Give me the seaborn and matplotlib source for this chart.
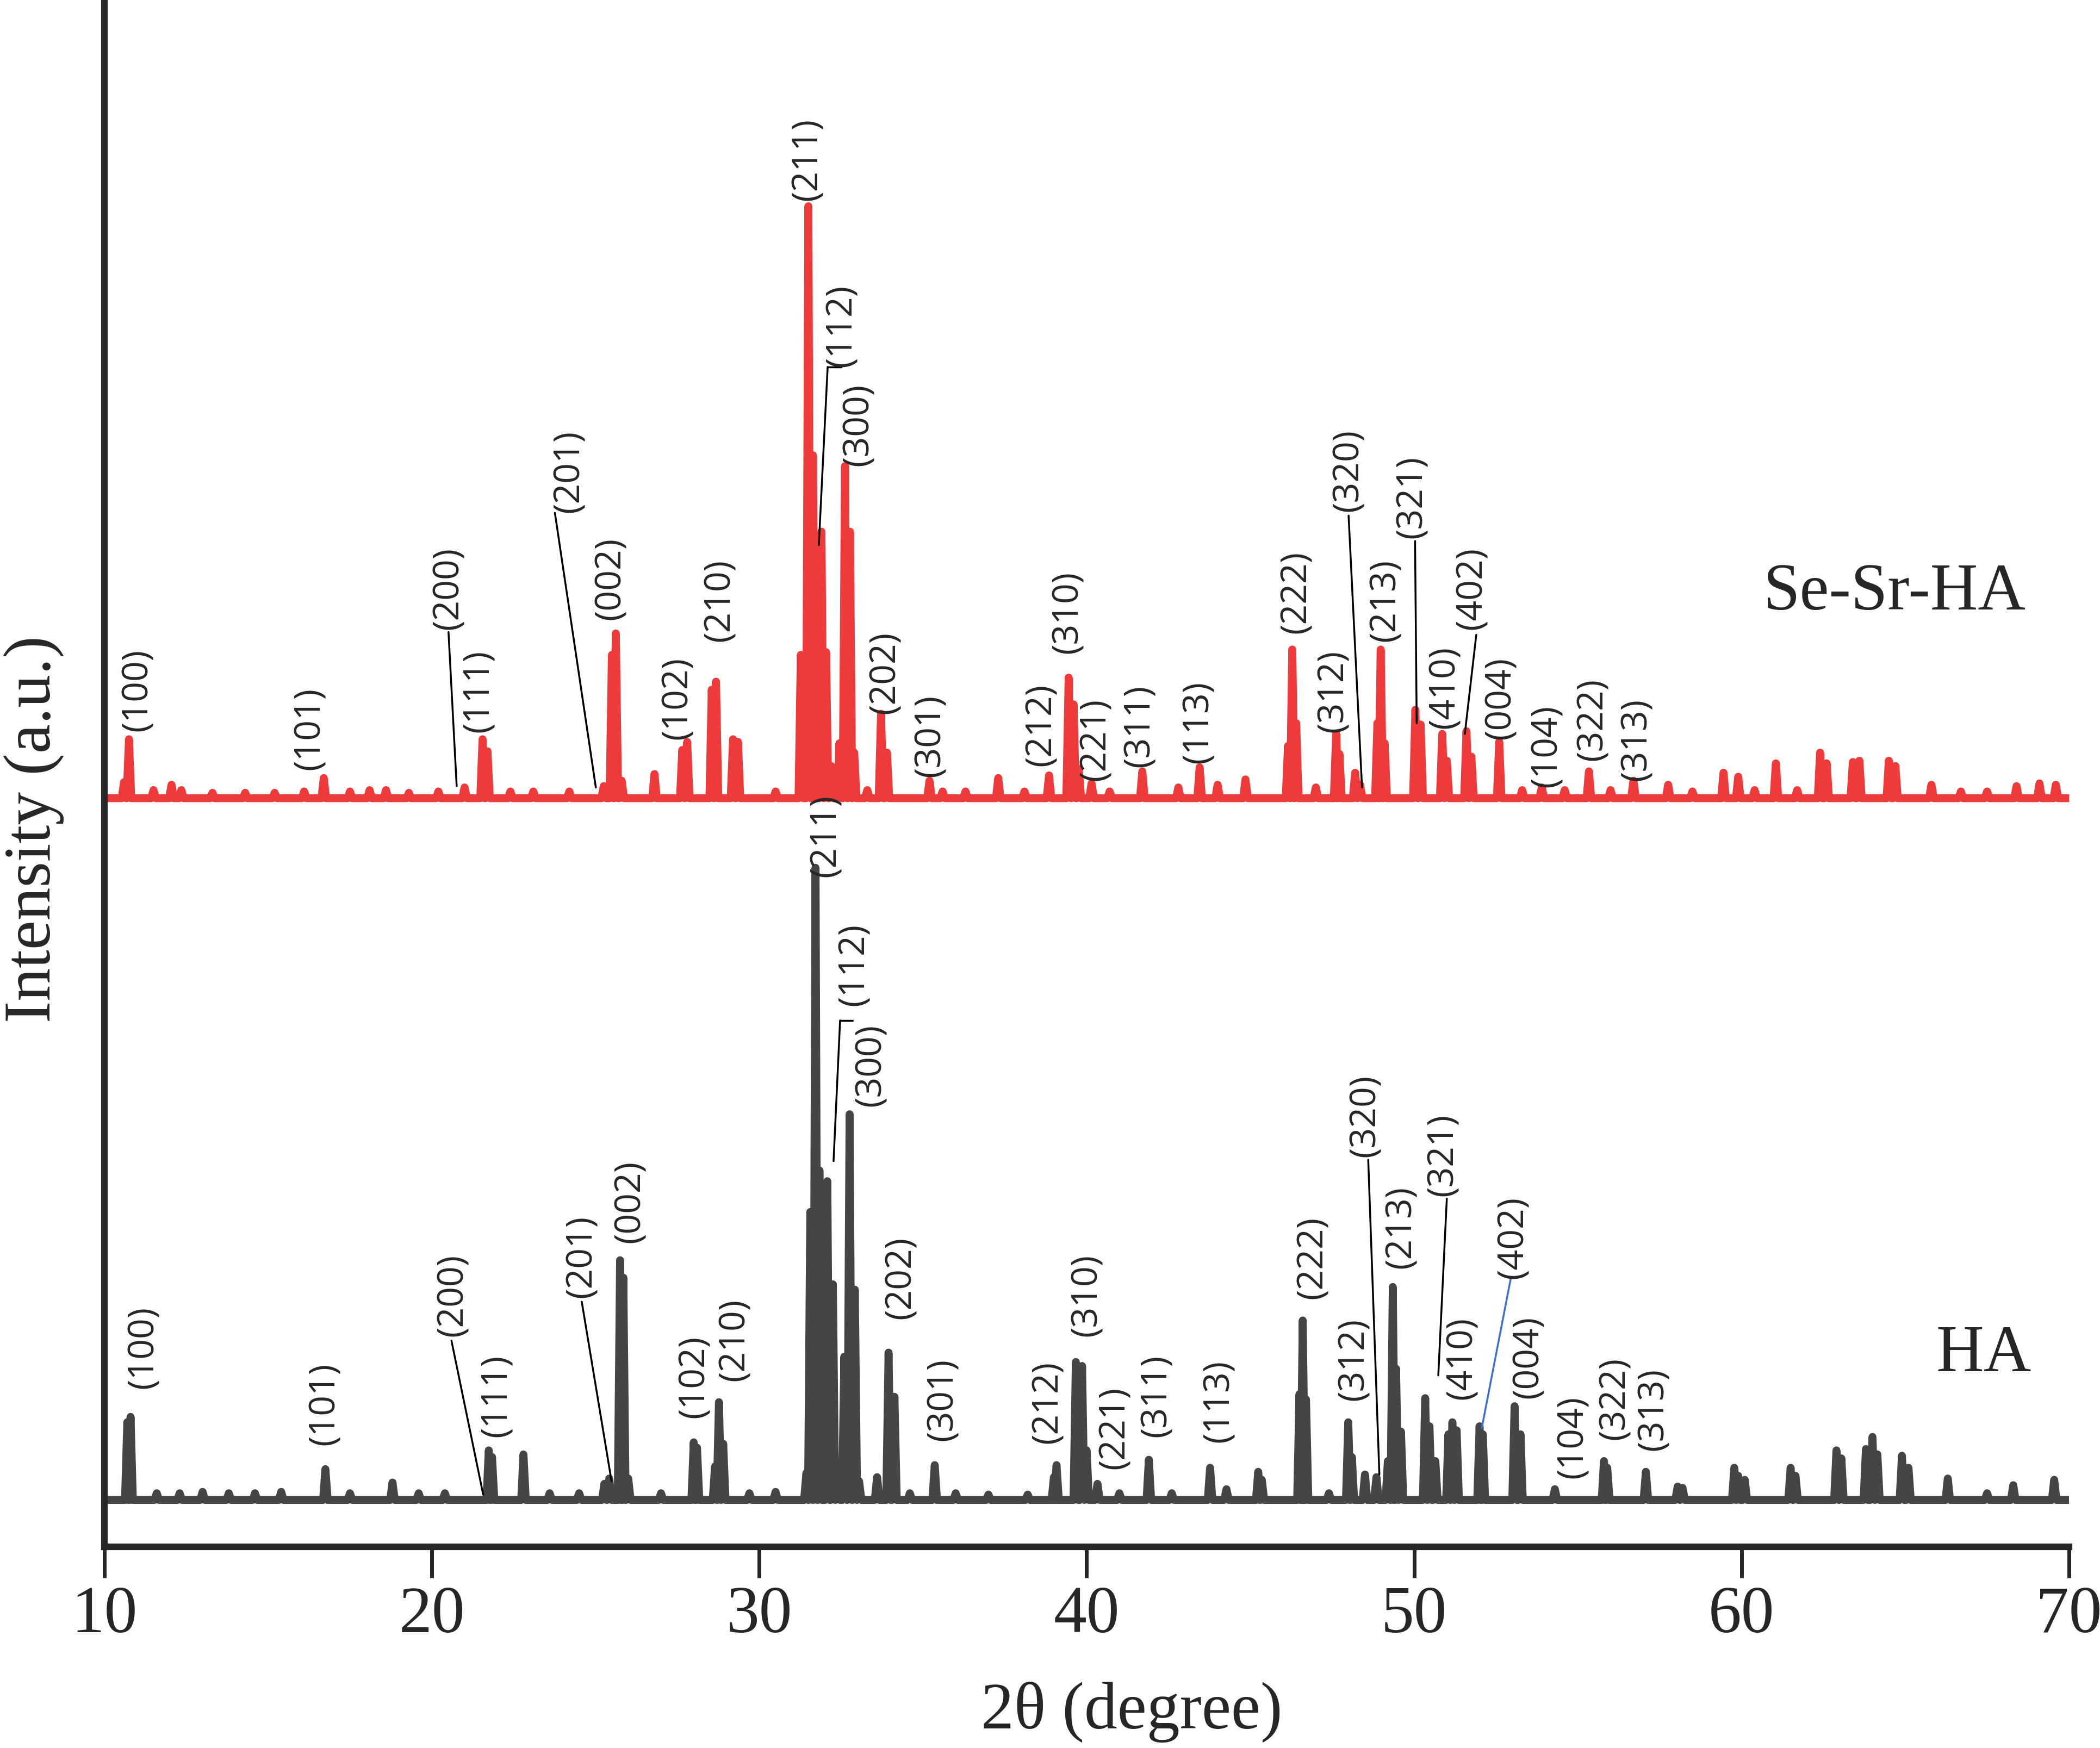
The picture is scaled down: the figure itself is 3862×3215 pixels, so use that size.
import pandas as pd
import matplotlib.pyplot as plt
import seaborn as sns

# Peak positions (2theta, degree) and heights above each baseline (a.u.)
sesr_pos = [10.60, 10.75, 11.50, 12.05, 12.35, 13.30, 14.30, 15.20, 16.10, 16.70,
            17.50, 18.10, 18.60, 19.30, 20.20, 21.00, 21.55, 21.70, 22.40, 23.10,
            24.20, 25.25, 25.50, 25.62, 25.80, 26.80, 27.65, 27.80, 28.55, 28.68,
            29.20, 29.35, 30.50, 31.27, 31.50, 31.64, 31.90, 32.04, 32.20, 32.45,
            32.62, 32.77, 32.90, 33.30, 33.72, 33.90, 35.20, 35.60, 36.30, 37.30,
            38.10, 38.85, 39.45, 39.60, 39.76, 40.15, 40.70, 41.70, 42.80, 43.45,
            44.00, 44.85, 46.15, 46.28, 46.40, 47.00, 47.62, 47.72, 48.20, 48.35,
            48.88, 48.98, 49.10, 50.04, 50.20, 50.86, 51.00, 51.60, 51.75, 52.60,
            53.30, 53.90, 54.60, 55.34, 56.00, 56.70, 57.76, 58.50, 59.45, 59.90,
            60.40, 61.05, 61.70, 62.40, 62.60, 63.40, 63.60, 64.50, 64.70, 65.80,
            66.70, 67.50, 68.40, 69.10, 69.60]
sesr_int = [12, 44, 6, 10, 6, 4, 4, 4, 5, 15,
            5, 6, 6, 4, 5, 8, 44, 35, 5, 5,
            5, 9, 107, 123, 13, 18, 36, 42, 81, 87,
            44, 42, 5, 107, 442, 256, 199, 109, 24, 41,
            248, 199, 34, 6, 63, 34, 13, 5, 5, 15,
            5, 17, 90, 70, 22, 11, 5, 20, 8, 23,
            10, 14, 39, 111, 56, 8, 48, 33, 19, 10,
            56, 111, 41, 66, 55, 48, 28, 50, 31, 42,
            6, 8, 6, 20, 6, 13, 10, 5, 19, 16,
            6, 26, 6, 34, 26, 27, 28, 28, 24, 10,
            5, 5, 9, 11, 10]

ha_pos = [10.70, 10.80, 11.60, 12.30, 13.00, 13.80, 14.60, 15.40, 16.75, 17.50,
          18.80, 19.60, 20.40, 21.74, 21.84, 22.80, 23.60, 24.50, 25.27, 25.42,
          25.75, 25.85, 26.00, 27.00, 28.00, 28.10, 28.65, 28.77, 28.90, 29.70,
          30.50, 31.44, 31.56, 31.72, 31.84, 32.08, 32.25, 32.40, 32.60, 32.76,
          32.92, 33.05, 33.60, 33.95, 34.13, 34.60, 35.36, 36.00, 37.00, 38.20,
          39.00, 39.08, 39.67, 39.86, 40.00, 40.33, 41.00, 41.90, 42.60, 43.77,
          44.27, 45.24, 45.35, 46.50, 46.60, 46.70, 47.40, 47.99, 48.10, 48.50,
          48.85, 49.20, 49.35, 49.45, 49.60, 50.34, 50.47, 50.65, 51.05, 51.17,
          51.30, 52.00, 52.10, 53.07, 53.25, 54.30, 55.80, 55.90, 57.08, 58.05,
          58.20, 59.78, 59.90, 60.10, 61.50, 61.65, 62.90, 63.05, 63.80, 64.00,
          64.15, 64.90, 65.10, 66.30, 67.50, 68.30, 69.55]
ha_int = [58, 62, 5, 5, 6, 5, 5, 6, 23, 5,
          13, 5, 5, 37, 32, 34, 5, 5, 12, 16,
          179, 166, 16, 5, 43, 39, 25, 73, 42, 5,
          6, 20, 215, 472, 246, 238, 161, 17, 107, 288,
          157, 14, 17, 110, 77, 5, 26, 5, 4, 4,
          17, 26, 103, 100, 37, 12, 5, 30, 5, 24,
          8, 21, 15, 79, 134, 75, 5, 58, 32, 19,
          17, 29, 159, 98, 51, 76, 55, 29, 49, 58,
          52, 55, 49, 70, 49, 8, 29, 24, 21, 10,
          9, 24, 18, 15, 24, 18, 37, 31, 38, 47,
          34, 33, 24, 16, 5, 11, 15]

series_names = ["Se-Sr-HA", "HA"]
series_offsets = [524, 0]

# Miller index labels: text, 2theta, bottom of label (a.u.)
sesr_hkl = ["(100)", "(101)", "(200)", "(111)", "(201)", "(002)", "(102)", "(210)",
            "(211)", "(112)", "(300)", "(202)", "(301)", "(212)", "(310)", "(221)",
            "(311)", "(113)", "(222)", "(312)", "(320)", "(213)", "(321)", "(410)",
            "(402)", "(004)", "(104)", "(322)", "(313)"]
sesr_hkl_x = [11.01, 16.27, 20.51, 21.43, 24.19, 25.46, 27.51, 28.80,
              31.47, 32.52, 33.04, 33.85, 35.23, 38.62, 39.43, 40.28,
              41.62, 43.42, 46.41, 47.53, 48.00, 49.12, 49.94, 50.94,
              51.76, 52.64, 54.05, 55.46, 56.79]
sesr_hkl_y = [574, 545, 650, 573, 737, 657, 568, 641,
              970, 846, 772, 587, 540, 548, 632, 537,
              547, 550, 647, 573, 738, 641, 718, 576,
              650, 568, 532, 552, 537]

ha_hkl = ["(100)", "(101)", "(200)", "(111)", "(201)", "(002)", "(102)", "(210)",
          "(211)", "(112)", "(300)", "(202)", "(301)", "(212)", "(310)", "(221)",
          "(311)", "(113)", "(222)", "(312)", "(320)", "(213)", "(321)", "(410)",
          "(402)", "(004)", "(104)", "(322)", "(313)"]
ha_hkl_x = [11.20, 16.72, 20.64, 21.98, 24.58, 26.06, 28.02, 29.25,
            32.04, 32.90, 33.42, 34.33, 35.61, 38.81, 40.00, 40.86,
            42.14, 44.05, 46.90, 48.17, 48.51, 49.61, 50.88, 51.47,
            53.03, 53.50, 54.86, 56.13, 57.32]
ha_hkl_y = [83, 41, 122, 47, 151, 192, 61, 89,
            465, 369, 294, 135, 44, 42, 122, 23,
            47, 43, 150, 74, 256, 173, 227, 75,
            165, 76, 16, 45, 37]

# leader lines from a label down to its peak: (x1, y1, x2, y2, colour)
leaders = [
    (20.51, 648, 20.76, 533, "black"),
    (23.76, 737, 25.01, 532, "black"),
    (32.50, 846, 32.09, 846, "black"),
    (32.09, 846, 31.82, 713, "black"),
    (48.00, 735, 48.41, 532, "black"),
    (50.03, 716, 50.08, 580, "black"),
    (51.90, 646, 51.55, 572, "black"),
    (20.60, 119, 21.57, 4, "black"),
    (24.58, 148, 25.49, 14, "black"),
    (32.85, 358, 32.47, 358, "black"),
    (32.47, 358, 32.27, 253, "black"),
    (48.60, 254, 48.94, 19, "black"),
    (51.00, 225, 50.74, 93, "black"),
    (52.95, 165, 52.07, 54, "#3f6fd0"),
]


def stick_trace(pos, inten, offset, name, hw=0.07):
    xs, ys = [10.0], [offset]
    for p, h in zip(pos, inten):
        xs += [p - hw, p, p + hw]
        ys += [offset, offset + h, offset]
    xs.append(70.0)
    ys.append(offset)
    return pd.DataFrame({"two_theta": xs, "intensity": ys, "sample": name})


sns.set_style("ticks")
plt.rcParams["font.family"] = ["Liberation Serif", "DejaVu Serif"]

fig = plt.figure(figsize=(3862 / 250, 3215 / 250), dpi=250)
ax = fig.add_axes([0.0497, 0.1151, 0.9355, 0.8849])

df_sesr = stick_trace(sesr_pos, sesr_int, series_offsets[0], series_names[0])
df_ha = stick_trace(ha_pos, ha_int, series_offsets[1], series_names[1])

sns.lineplot(data=df_sesr, x="two_theta", y="intensity", sort=False, estimator=None,
             color="#ee3a3a", lw=4.2, ax=ax, solid_joinstyle="round")
sns.lineplot(data=df_ha, x="two_theta", y="intensity", sort=False, estimator=None,
             color="#454545", lw=4.2, ax=ax, solid_joinstyle="round")

for t, x, y in zip(sesr_hkl, sesr_hkl_x, sesr_hkl_y):
    ax.text(x, y, t, rotation=90, ha="center", va="bottom", fontsize=19,
            family="Open Sans", zorder=5)
for t, x, y in zip(ha_hkl, ha_hkl_x, ha_hkl_y):
    ax.text(x, y, t, rotation=90, ha="center", va="bottom", fontsize=19,
            family="Open Sans", zorder=5)

for x1, y1, x2, y2, c in leaders:
    ax.plot([x1, x2], [y1, y2], color=c, lw=1.0, zorder=4)

# sample names
ax.text(60.67, 665, series_names[0], fontsize=35, ha="left", va="baseline")
ax.text(65.95, 96, series_names[1], fontsize=35, ha="left", va="baseline")

ax.set_xlim(10, 70)
ax.set_ylim(-35, 1120)
ax.set_xticks([10, 20, 30, 40, 50, 60, 70])
ax.set_yticks([])
ax.set_xlabel("")
ax.set_ylabel("")
ax.text(0.523, -0.107, "2θ (degree)", transform=ax.transAxes, fontsize=35,
        ha="center", va="center")
ax.text(-0.036, 0.464, "Intensity (a.u.)", transform=ax.transAxes, fontsize=35,
        ha="center", va="center", rotation=90)

sns.despine(ax=ax)
for s in ["left", "bottom"]:
    ax.spines[s].set_linewidth(3.5)
ax.tick_params(axis="x", direction="out", length=16.5, width=2, pad=4, labelsize=35)

fig.savefig("out.png", dpi=250)
